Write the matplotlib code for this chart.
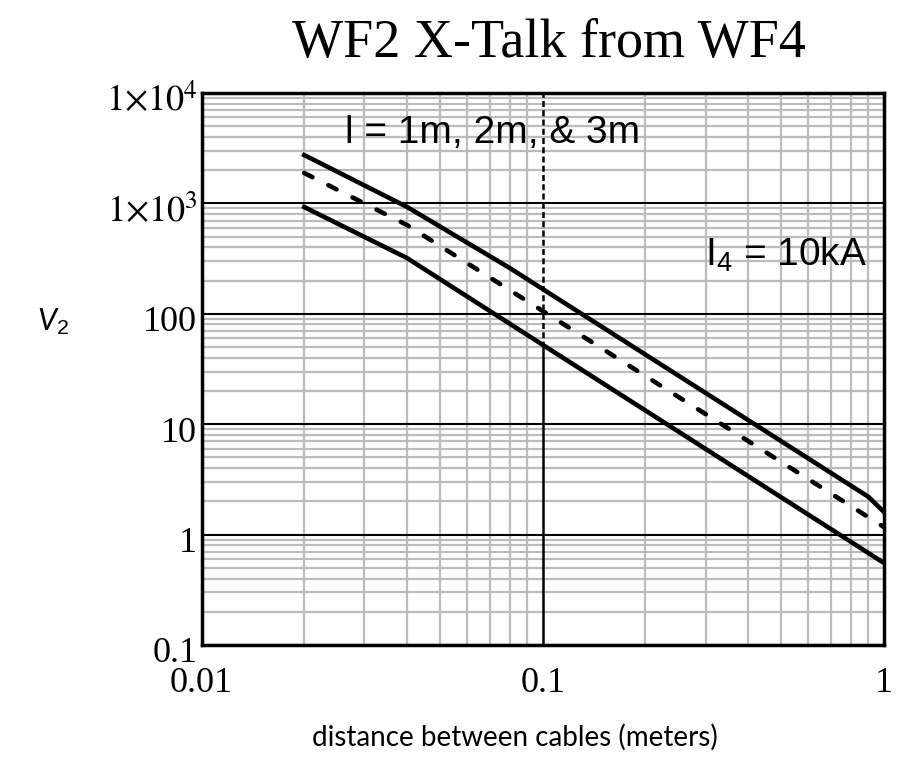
import matplotlib
matplotlib.use("Agg")
import matplotlib.pyplot as plt
import matplotlib.transforms as mtransforms
from matplotlib.ticker import LogLocator, NullFormatter

# Induced voltage V2 vs. cable separation, for three cable lengths
dist_1m = [0.02, 0.04, 1.0]
v2_1m = [927, 320, 0.553]

dist_2m = [0.02, 0.04, 1.0]
v2_2m = [1885, 637, 1.17]

dist_3m = [0.02, 0.04, 0.08, 0.9, 1.0]
v2_3m = [2740, 930, 260, 2.2, 1.6]

x_ticks = [0.01, 0.1, 1]
x_tick_labels = ["0.01", "0.1", "1"]
y_ticks = [0.1, 1, 10, 100, 1000, 10000]
y_tick_labels = ["0.1", "1", "10", "100", r"$1{\times}10^{3}$", r"$1{\times}10^{4}$"]

marker_x = 0.1          # vertical marker line at 0.1 m
marker_split = 50       # marker is dashed above this voltage

plt.rcParams["mathtext.fontset"] = "custom"
plt.rcParams["mathtext.rm"] = "Liberation Sans"
plt.rcParams["mathtext.it"] = "Lato:italic"

W, H = 898, 762
fig = plt.figure(figsize=(W / 100, H / 100), dpi=100)
left, right, top, bottom = 201.5, 884, 93, 645
ax = fig.add_axes([left / W, 1 - bottom / H, (right - left) / W, (bottom - top) / H])
ax.set_xscale("log")
ax.set_yscale("log")
ax.set_xlim(0.01, 1)
ax.set_ylim(0.1, 1e4)

# grid
ax.xaxis.set_minor_locator(LogLocator(base=10, subs=range(2, 10)))
ax.yaxis.set_minor_locator(LogLocator(base=10, subs=range(2, 10)))
ax.xaxis.set_minor_formatter(NullFormatter())
ax.yaxis.set_minor_formatter(NullFormatter())
ax.grid(which="minor", axis="both", color="#bcbcbc", lw=1.6, zorder=0)
ax.grid(which="major", axis="y", color="black", lw=1.5, zorder=1)
ax.set_axisbelow(True)

ax.plot([marker_x, marker_x], [ax.get_ylim()[0], marker_split], color="black", lw=1.8, zorder=2)
ax.plot([marker_x, marker_x], [marker_split, ax.get_ylim()[1]], color="black", lw=1.8,
        linestyle=(0, (2.4, 1.3)), zorder=2)

# curves
ax.plot(dist_3m, v2_3m, color="black", lw=3.3, solid_joinstyle="round", zorder=5)
ax.plot(dist_2m, v2_2m, color="black", lw=3.3, linestyle=(0, (2.0, 3.9)),
        dash_capstyle="round", zorder=5)
ax.plot(dist_1m, v2_1m, color="black", lw=3.3, solid_joinstyle="round", zorder=5)

for s in ax.spines.values():
    s.set_linewidth(2.5)
    s.set_zorder(6)

ax.set_xticks(x_ticks)
ax.set_xticklabels(x_tick_labels, fontfamily="Liberation Serif", fontsize=26)
ax.set_yticks(y_ticks)
ax.set_yticklabels(y_tick_labels, fontfamily="Liberation Serif", fontsize=26)
ax.tick_params(which="both", length=0)
ax.tick_params(axis="x", pad=16)
ax.tick_params(axis="y", pad=3)
shift = mtransforms.ScaledTranslation(0, -5 / 100, fig.dpi_scale_trans)
for lbl in ax.get_yticklabels():
    lbl.set_math_fontfamily("stix")
    lbl.set_transform(lbl.get_transform() + shift)
for lbl in ax.get_xticklabels():
    lbl.set_math_fontfamily("stix")

# annotations
ax.text((345 - left) / (right - left), (bottom - 143) / (bottom - top),
        "l = 1m, 2m, & 3m", transform=ax.transAxes, fontfamily="Liberation Sans",
        fontsize=28, va="baseline", ha="left", zorder=7)
ax.text((705 - left) / (right - left), (bottom - 265) / (bottom - top),
        r"$\mathrm{I}_{4}$ = 10kA", transform=ax.transAxes, fontfamily="Liberation Sans",
        fontsize=28, va="baseline", ha="left", zorder=7)

fig.text(549 / W, 1 - 44 / H, "WF2 X-Talk from WF4", fontfamily="Liberation Serif",
         fontsize=39, ha="center", va="center")
fig.text(515 / W, 1 - 737 / H, "distance between cables (meters)", fontfamily="Lato",
         fontsize=20, ha="center", va="center")
fig.text(37 / W, 1 - 322 / H, r"$V_{\mathit{2}}$", fontsize=22, ha="left", va="center")

fig.savefig("out.png", dpi=100)
